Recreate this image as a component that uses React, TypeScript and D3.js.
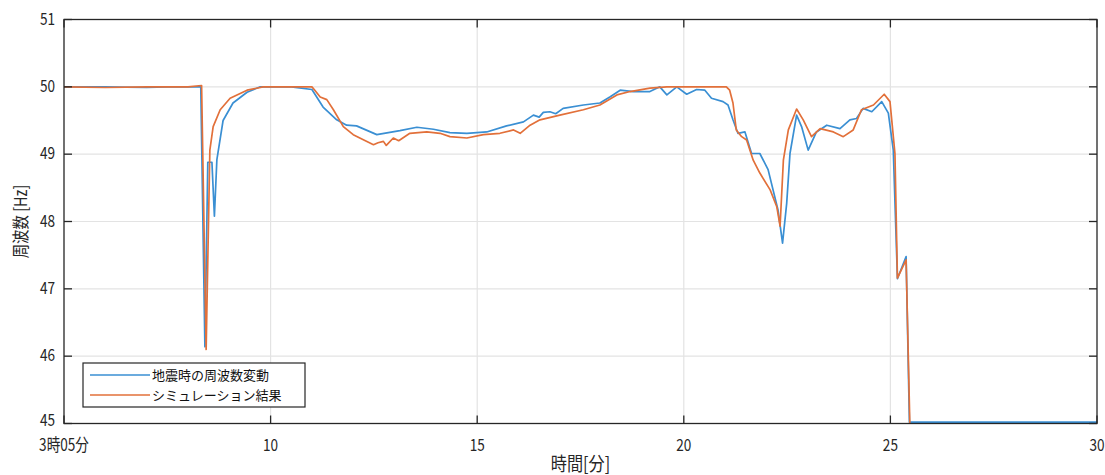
import React from "react";
import * as d3 from "d3";

// Measured grid frequency during the earthquake (minutes after 3:00, Hz)
const measuredTime = [5.0, 6.0, 7.0, 7.5, 8.31, 8.41, 8.48, 8.58, 8.64, 8.7, 8.85, 9.09, 9.43, 9.75, 10.5, 11.0, 11.27, 11.6, 11.84, 12.08, 12.57, 13.13, 13.54, 13.94, 14.34, 14.75, 15.23, 15.71, 16.12, 16.36, 16.5, 16.6, 16.76, 16.9, 17.08, 17.57, 17.97, 18.21, 18.46, 18.78, 19.18, 19.42, 19.59, 19.83, 20.07, 20.31, 20.51, 20.67, 20.95, 21.07, 21.19, 21.31, 21.48, 21.64, 21.84, 22.04, 22.28, 22.39, 22.49, 22.57, 22.73, 22.85, 23.01, 23.21, 23.46, 23.78, 24.02, 24.18, 24.34, 24.55, 24.79, 24.95, 25.07, 25.17, 25.38, 25.46, 30.0];
const measuredHz = [50.0, 50.0, 49.99, 50.0, 50.0, 46.14, 48.88, 48.88, 48.08, 48.92, 49.5, 49.76, 49.92, 50.0, 50.0, 49.96, 49.7, 49.51, 49.43, 49.42, 49.29, 49.35, 49.4, 49.37, 49.32, 49.31, 49.33, 49.42, 49.48, 49.58, 49.55, 49.62, 49.63, 49.6, 49.68, 49.73, 49.76, 49.85, 49.95, 49.93, 49.93, 50.0, 49.88, 50.0, 49.89, 49.96, 49.95, 49.83, 49.78, 49.73, 49.51, 49.31, 49.33, 49.01, 49.01, 48.77, 48.17, 47.68, 48.27, 49.01, 49.58, 49.41, 49.06, 49.33, 49.43, 49.38, 49.51, 49.53, 49.68, 49.63, 49.78, 49.61, 49.06, 47.15, 47.48, 45.02, 45.02];

// Simulation result
const simTime = [5.0, 6.0, 7.0, 8.0, 8.33, 8.44, 8.53, 8.61, 8.78, 9.02, 9.43, 9.82, 11.0, 11.07, 11.2, 11.36, 11.52, 11.76, 12.0, 12.49, 12.6, 12.73, 12.8, 12.97, 13.1, 13.37, 13.78, 14.1, 14.34, 14.75, 15.15, 15.55, 15.88, 16.04, 16.28, 16.52, 17.0, 17.57, 17.97, 18.38, 18.7, 19.18, 19.59, 21.03, 21.11, 21.19, 21.27, 21.4, 21.52, 21.68, 21.84, 22.09, 22.25, 22.33, 22.41, 22.53, 22.73, 22.89, 23.09, 23.3, 23.62, 23.86, 24.1, 24.3, 24.59, 24.85, 24.99, 25.11, 25.17, 25.38, 25.47];
const simHz = [50.0, 49.99, 50.0, 50.0, 50.02, 46.1, 49.06, 49.41, 49.66, 49.83, 49.95, 50.0, 50.0, 49.95, 49.85, 49.81, 49.66, 49.41, 49.29, 49.14, 49.17, 49.19, 49.13, 49.24, 49.2, 49.31, 49.33, 49.31, 49.26, 49.24, 49.29, 49.31, 49.36, 49.31, 49.43, 49.51, 49.58, 49.66, 49.73, 49.88, 49.93, 49.98, 50.0, 50.0, 49.95, 49.76, 49.36, 49.26, 49.21, 48.91, 48.72, 48.47, 48.22, 47.93, 48.91, 49.36, 49.67, 49.51, 49.26, 49.38, 49.33, 49.26, 49.36, 49.66, 49.73, 49.89, 49.78, 49.01, 47.16, 47.43, 45.0];

const xTicks = [5, 10, 15, 20, 25, 30];
const xTickLabels = ["3時05分", "10", "15", "20", "25", "30"];
const yTicks = [45, 46, 47, 48, 49, 50, 51];

const seriesNames = ["地震時の周波数変動", "シミュレーション結果"];
const seriesColors = ["#3a8fd3", "#e2703a"];

const W = 1105;
const H = 475;
const left = 64;
const right = 1097;
const top = 19.5;
const bottom = 423.5;

export default function App() {
  const x = d3.scaleLinear().domain([5, 30]).range([left, right]);
  const y = d3.scaleLinear().domain([45, 51]).range([bottom, top]);

  const line = d3
    .line<[number, number]>()
    .x((d) => x(d[0]))
    .y((d) => y(d[1]));

  const measured = measuredTime.map((t, i) => [t, measuredHz[i]] as [number, number]);
  const sim = simTime.map((t, i) => [t, simHz[i]] as [number, number]);

  const font = "'Noto Sans CJK JP', 'Noto Sans', sans-serif";
  const tickColor = "#262626";

  return (
    <svg
      width={W}
      height={H}
      style={{ position: "absolute", left: 0, top: 0, background: "#fff" }}
      fontFamily={font}
    >
      <defs>
        <clipPath id="plotArea">
          <rect x={left} y={top - 2} width={right - left} height={bottom - top + 4} />
        </clipPath>
      </defs>

      {/* grid */}
      {xTicks.slice(1, -1).map((t) => (
        <line key={"gx" + t} x1={x(t)} x2={x(t)} y1={top} y2={bottom} stroke="#e3e3e3" strokeWidth={1.2} />
      ))}
      {yTicks.slice(1, -1).map((t) => (
        <line key={"gy" + t} x1={left} x2={right} y1={y(t)} y2={y(t)} stroke="#e3e3e3" strokeWidth={1.2} />
      ))}

      {/* series */}
      <g clipPath="url(#plotArea)" fill="none" strokeLinejoin="round">
        <path d={line(measured) ?? ""} stroke={seriesColors[0]} strokeWidth={1.7} />
        <path d={line(sim) ?? ""} stroke={seriesColors[1]} strokeWidth={1.7} />
      </g>

      {/* axes box and inward ticks */}
      <rect x={left} y={top} width={right - left} height={bottom - top} fill="none" stroke={tickColor} strokeWidth={1.3} />
      {xTicks.map((t) => (
        <g key={"tx" + t} stroke={tickColor} strokeWidth={1.3}>
          <line x1={x(t)} x2={x(t)} y1={bottom} y2={bottom - 8} />
          <line x1={x(t)} x2={x(t)} y1={top} y2={top + 8} />
        </g>
      ))}
      {yTicks.map((t) => (
        <g key={"ty" + t} stroke={tickColor} strokeWidth={1.3}>
          <line x1={left} x2={left + 8} y1={y(t)} y2={y(t)} />
          <line x1={right} x2={right - 8} y1={y(t)} y2={y(t)} />
        </g>
      ))}

      {/* tick labels */}
      {xTicks.map((t, i) => (
        <g key={"lx" + t} transform={`translate(${x(t)},${bottom + 27}) scale(0.8,1)`}>
          <text textAnchor="middle" fontSize={17} fill={tickColor}>
            {xTickLabels[i]}
          </text>
        </g>
      ))}
      {yTicks.map((t) => (
        <g key={"ly" + t} transform={`translate(${left - 9},${y(t) + (t === 45 ? 2 : 5)}) scale(0.8,1)`}>
          <text textAnchor="end" fontSize={17} fill={tickColor}>
            {t}
          </text>
        </g>
      ))}

      {/* axis titles */}
      <g transform={`translate(${(left + right) / 2},${H - 4}) scale(0.85,1)`}>
        <text textAnchor="middle" fontSize={19} fill={tickColor}>
          時間[分]
        </text>
      </g>
      <g transform={`translate(27,${(top + bottom) / 2}) rotate(-90) scale(0.85,1)`}>
        <text textAnchor="middle" fontSize={17} fill={tickColor}>
          周波数 [Hz]
        </text>
      </g>

      {/* legend */}
      <rect x={83} y={363} width={222} height={44} fill="#fff" stroke="#262626" strokeWidth={1.2} />
      {seriesNames.map((name, i) => (
        <g key={name}>
          <line x1={90} x2={150} y1={375 + i * 20} y2={375 + i * 20} stroke={seriesColors[i]} strokeWidth={1.7} />
          <text x={152} y={380 + i * 20} fontSize={13} fill="#111">
            {name}
          </text>
        </g>
      ))}
    </svg>
  );
}
